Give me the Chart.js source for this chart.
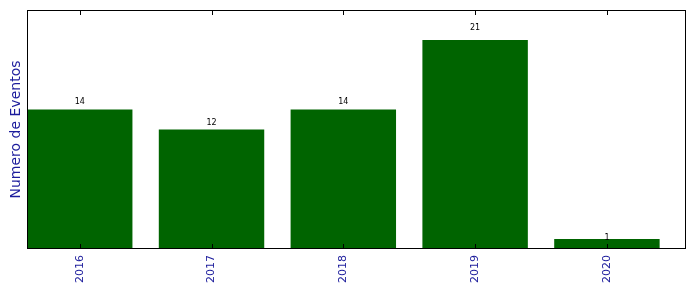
<!DOCTYPE html>
<html>
<head>
<meta charset="utf-8">
<script src="https://cdn.jsdelivr.net/npm/chart.js@4"></script>
<style>
  html, body { margin: 0; padding: 0; background: #fff; }
  #wrap { width: 696px; height: 292px; }
</style>
</head>
<body>
<div id="wrap"><canvas id="chart"></canvas></div>
<script>
// datos
const years = ['2016', '2017', '2018', '2019', '2020'];
const eventos = [14, 12, 14, 21, 1];
const yMax = 24;

// marco con ticks hacia dentro + etiquetas de valor
const framePlugin = {
  id: 'frame',
  afterDatasetsDraw(chart) {
    const ctx = chart.ctx;
    const a = chart.chartArea;
    const xs = chart.scales.x;
    const ys = chart.scales.y;
    ctx.save();
    ctx.strokeStyle = '#000';
    ctx.lineWidth = 1;
    ctx.strokeRect(a.left + 0.5, a.top + 0.5, a.right - a.left - 1, a.bottom - a.top - 1);
    years.forEach((y, i) => {
      const px = Math.round(xs.getPixelForValue(i)) + 0.5;
      ctx.beginPath();
      ctx.moveTo(px, a.bottom); ctx.lineTo(px, a.bottom - 5);
      ctx.moveTo(px, a.top); ctx.lineTo(px, a.top + 5);
      ctx.stroke();
    });
    ctx.fillStyle = '#000';
    ctx.font = '8px "DejaVu Sans", sans-serif';
    ctx.textAlign = 'center';
    ctx.textBaseline = 'bottom';
    eventos.forEach((v, i) => {
      // como matplotlib: texto en 1.05 * altura
      ctx.fillText(String(v), xs.getPixelForValue(i), ys.getPixelForValue(v * 1.05) + 3);
    });
    ctx.restore();
  }
};

new Chart(document.getElementById('chart'), {
  type: 'bar',
  data: {
    datasets: [{
      data: years.map((y, i) => ({ x: i, y: eventos[i] })),
      backgroundColor: '#006400',
      borderWidth: 0,
      barPercentage: 0.8,
      categoryPercentage: 1.0
    }]
  },
  options: {
    responsive: true,
    maintainAspectRatio: false,
    animation: false,
    layout: { padding: { top: 10, right: 10, left: 0, bottom: 0 } },
    plugins: { legend: { display: false }, tooltip: { enabled: false } },
    scales: {
      x: {
        type: 'linear',
        offset: false,
        min: -0.4,
        max: 4.6,
        grid: { display: false, drawTicks: false },
        border: { display: false },
        afterBuildTicks(scale) {
          scale.ticks = years.map((y, i) => ({ value: i }));
        },
        afterFit(scale) { scale.height = 43; },
        ticks: {
          autoSkip: false,
          minRotation: 90,
          maxRotation: 90,
          padding: 6,
          color: '#1c1c9c',
          font: { family: '"DejaVu Sans", sans-serif', size: 11 },
          callback: function(value) { return years[value]; }
        }
      },
      y: {
        min: 0,
        max: yMax,
        grid: { display: false, drawTicks: false },
        border: { display: false },
        ticks: { display: false },
        afterFit(scale) { scale.width = 27; },
        title: {
          display: true,
          text: 'Numero de Eventos',
          color: '#1c1c9c',
          padding: { top: 8, bottom: 0 },
          font: { family: '"DejaVu Sans", sans-serif', size: 14 }
        }
      }
    }
  },
  plugins: [framePlugin]
});
</script>
</body>
</html>
